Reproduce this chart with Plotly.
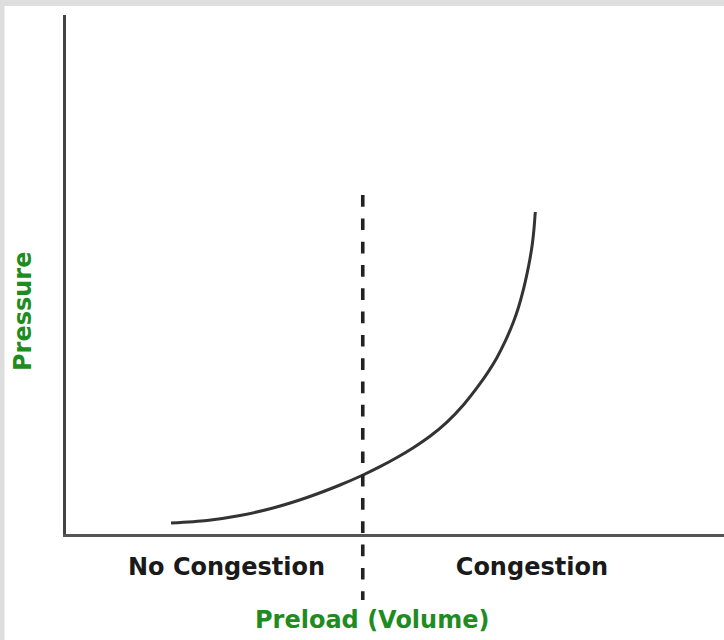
import plotly.graph_objects as go

# ---- data (arbitrary units) ----
volume = [15.96, 21.43, 26.44, 31.46, 36.63, 41.64, 45.14, 47.72, 50.30,
          52.78, 55.47, 57.90, 60.49, 62.92, 64.29, 65.46, 66.79, 67.98,
          68.77, 69.50, 70.06, 70.52, 70.87, 71.12, 71.32]
pressure = [2.12, 2.60, 3.56, 5.01, 7.03, 9.44, 11.37, 12.97, 14.74,
            16.63, 18.98, 21.56, 25.01, 28.96, 31.48, 33.91, 37.24, 40.79,
            43.70, 47.03, 50.12, 53.08, 55.88, 58.75, 62.04]
boundary_volume = [45.1, 45.1]
boundary_pressure = [65.3, -12.7]
tick_positions = [24.4, 70.8]
tick_labels = ["No Congestion", "Congestion"]
x_title = "Preload (Volume)"
y_title = "Pressure"

# ---- layout geometry ----
W, H = 724, 640
L, R, T, B = 66, 0, 15, 30
AXIS_BOTTOM_PX = 534
X_RANGE = [0, 100]
Y_RANGE = [0, 100]

plot_w = W - L - R
plot_h = H - T - B
dom_bottom = (H - B - AXIS_BOTTOM_PX) / plot_h
px_per_unit = (AXIS_BOTTOM_PX - T) / (Y_RANGE[1] - Y_RANGE[0])
y2_low = Y_RANGE[0] - (H - B - AXIS_BOTTOM_PX) / px_per_unit


def px_x(p):
    return (p - L) / plot_w


def px_y(p):
    return (H - B - p) / plot_h


FONT = "DejaVu Sans, Liberation Sans, Arial, sans-serif"
GREEN = "#1f8c1f"
GRAY = "#dedede"

fig = go.Figure()

fig.add_trace(go.Scatter(
    x=volume, y=pressure, mode="lines",
    line=dict(color="#333333", width=3, shape="spline", smoothing=0.8),
    xaxis="x", yaxis="y", hoverinfo="skip", showlegend=False,
))

fig.add_trace(go.Scatter(
    x=boundary_volume, y=boundary_pressure, mode="lines",
    line=dict(color="#222222", width=3.6, dash="11.7px,11.6px"),
    xaxis="x2", yaxis="y2", hoverinfo="skip", showlegend=False,
))

fig.update_layout(
    width=W, height=H,
    margin=dict(l=L, r=R, t=T, b=B, pad=0),
    paper_bgcolor="white",
    plot_bgcolor="rgba(0,0,0,0)",
    showlegend=False,
    xaxis=dict(
        range=X_RANGE, domain=[0, 1], anchor="y",
        showgrid=False, zeroline=False,
        showline=True, linecolor="#555555", linewidth=3,
        ticks="", tickvals=tick_positions, ticktext=tick_labels,
        ticklabelstandoff=9,
        tickfont=dict(family=FONT, size=24, color="#1a1a1a", weight="bold"),
        fixedrange=True,
    ),
    yaxis=dict(
        range=Y_RANGE, domain=[dom_bottom, 1], anchor="x",
        showgrid=False, zeroline=False,
        showline=True, linecolor="#444444", linewidth=2.5,
        ticks="", showticklabels=False, fixedrange=True,
    ),
    xaxis2=dict(
        range=X_RANGE, domain=[0, 1], anchor="y2", overlaying="x",
        visible=False, fixedrange=True,
    ),
    yaxis2=dict(
        range=[y2_low, Y_RANGE[1]], domain=[0, 1], anchor="x2",
        visible=False, fixedrange=True,
    ),
    annotations=[
        dict(text=x_title, xref="paper", yref="paper",
             x=px_x(372), y=px_y(620), xanchor="center", yanchor="middle",
             showarrow=False,
             font=dict(family=FONT, size=24, color=GREEN, weight="bold")),
        dict(text=y_title, xref="paper", yref="paper", textangle=-90,
             x=px_x(23), y=px_y(312), xanchor="center", yanchor="middle",
             showarrow=False,
             font=dict(family=FONT, size=24, color=GREEN, weight="bold")),
    ],
    shapes=[
        dict(type="rect", xref="paper", yref="paper", layer="above",
             x0=px_x(0), x1=px_x(W), y0=px_y(6), y1=px_y(0),
             fillcolor=GRAY, line=dict(width=0)),
        dict(type="rect", xref="paper", yref="paper", layer="above",
             x0=px_x(0), x1=px_x(4.5), y0=px_y(H), y1=px_y(0),
             fillcolor=GRAY, line=dict(width=0)),
    ],
)

fig.write_html(
    "out.html",
    config={"displayModeBar": False},
    post_script="document.body.style.margin='0';document.body.style.overflow='hidden';",
)
